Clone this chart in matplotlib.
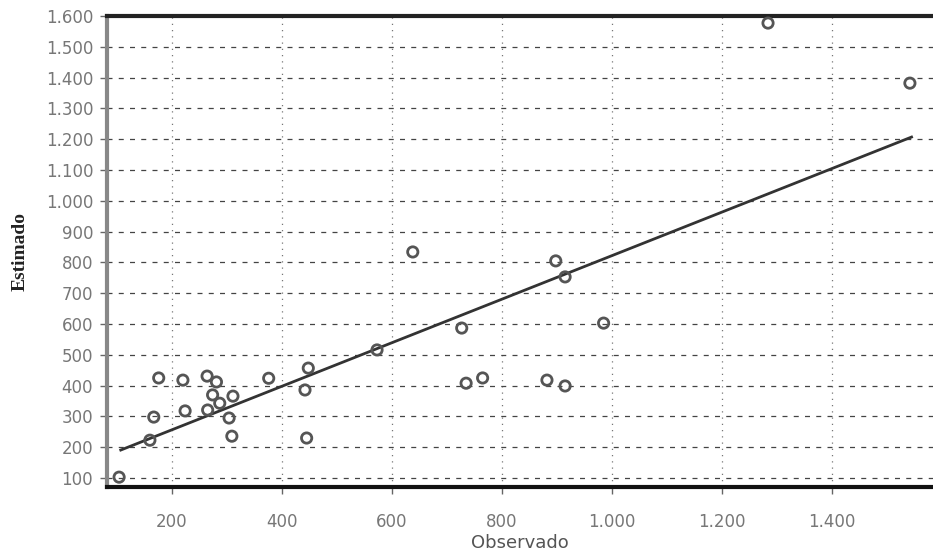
import matplotlib
matplotlib.use("Agg")
import matplotlib.pyplot as plt
from matplotlib.ticker import FuncFormatter

# Observed vs estimated values
observado = [104, 160, 167, 176, 220, 224, 264, 281, 274, 287, 265, 311, 304, 309,
             376, 442, 448, 445, 573, 638, 727, 735, 765, 898, 915, 882, 915, 985,
             1284, 1542]
estimado = [103, 223, 298, 425, 418, 318, 431, 412, 370, 343, 321, 366, 295, 236,
            424, 386, 457, 230, 516, 834, 587, 408, 425, 805, 753, 418, 399, 603,
            1577, 1382]

# Fitted line end points
fit_x = [107, 1545]
fit_y = [191, 1207]

x_ticks = [200, 400, 600, 800, 1000, 1200, 1400]
y_ticks = list(range(100, 1700, 100))

def fmt(v, pos=None):
    return f"{int(v):,}".replace(",", ".")

fig = plt.figure(figsize=(9.33, 5.55), dpi=100)
ax = fig.add_axes([0.1147, 0.1225, 0.8853, 0.8487])

ax.set_xlim(82, 1584)
ax.set_ylim(71, 1600)

ax.set_xticks(x_ticks)
ax.set_yticks(y_ticks)
ax.xaxis.set_major_formatter(FuncFormatter(fmt))
ax.yaxis.set_major_formatter(FuncFormatter(fmt))

ax.grid(axis="y", linestyle=(0, (4, 5)), color="#444444", linewidth=0.9)
ax.grid(axis="x", linestyle=(0, (1, 4)), color="#777777", linewidth=0.9)
ax.set_axisbelow(True)

ax.plot(fit_x, fit_y, color="#333333", linewidth=2.0, zorder=3)
ax.scatter(observado, estimado, s=55, facecolors="none", edgecolors="#555555",
           linewidths=2.0, zorder=4)

for side in ["left", "bottom", "top"]:
    ax.spines[side].set_linewidth(3)
ax.spines["left"].set_color("#888888")
ax.spines["bottom"].set_color("#111111")
ax.spines["top"].set_color("#222222")
ax.spines["right"].set_visible(False)

ax.tick_params(axis="both", labelsize=12, labelcolor="#777777", color="#666666",
               length=5, width=1)
ax.tick_params(axis="y", pad=5)
ax.tick_params(axis="x", pad=14)

ax.set_xlabel("Observado", fontsize=13, color="#555555", labelpad=2)
ax.set_ylabel("Estimado", fontsize=14, fontweight="bold", color="#222222", labelpad=12,
              family="Liberation Serif")

fig.savefig("out.png", dpi=100)
